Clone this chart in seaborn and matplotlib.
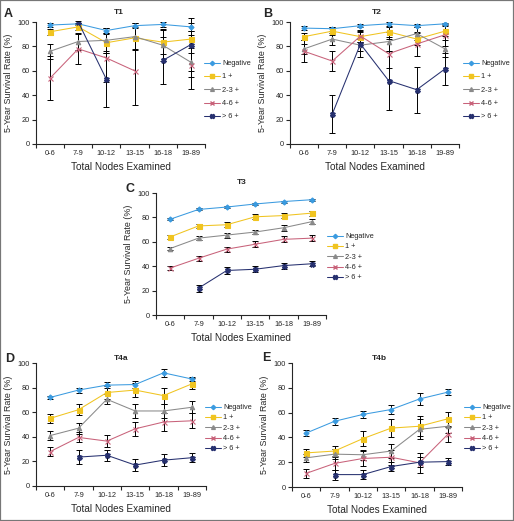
import numpy as np
import pandas as pd
import matplotlib
matplotlib.use("Agg")
import matplotlib.pyplot as plt
import seaborn as sns
from matplotlib.lines import Line2D
from matplotlib.patches import Rectangle

nan = np.nan
categories = ['0-6', '7-9', '10-12', '13-15', '16-18', '19-89']
groups = ['Negative', '1 +', '2-3 +', '4-6 +', '> 6 +']

# ---- T1 ----
t1_neg = [97.5, 98.5, 93, 97, 98, 96]
t1_1 = [92, 96, 83, 87, 83.5, 86]
t1_23 = [76, 84, 85, 88, 81, 67]
t1_46 = [54, 78, 70.5, 60, nan, 65]
t1_6 = [nan, 100, 53, nan, 68.5, 81.5]
t1_neg_e = [1.5, 1, 2.3, 2, 2, 3]
t1_1_e = [2.5, 2.5, 8, 9, 10, 7]
t1_23_e = [6, 7, 10, 11, 13, 22]
t1_46_e = [18, 12.5, 20, 28, 0, 10]
t1_6_e = [0, 1, 23, 0, 19, 22]

# ---- T2 ----
t2_neg = [95, 94.5, 97, 98.5, 97, 98.5]
t2_1 = [88, 92.5, 88, 92, 86, 92.5]
t2_23 = [78, 86, 81, 84, 90.5, 78]
t2_46 = [76, 68, 88.5, 74, 82, 89.5]
t2_6 = [nan, 24.5, 82, 52, 44.5, 61.5]
t2_neg_e = [1.5, 1.5, 1.5, 1.5, 1.5, 1]
t2_1_e = [3, 3, 4, 4, 5, 4]
t2_23_e = [4, 5, 5, 8, 5, 7]
t2_46_e = [9, 8.5, 5, 12, 10, 9]
t2_6_e = [0, 15.5, 11, 24.5, 19, 13]

# ---- T3 ----
t3_neg = [78.5, 86.5, 88.5, 91, 93, 94.5]
t3_1 = [64, 73, 74, 80.5, 81.5, 83.5]
t3_23 = [54.5, 63, 65.5, 68, 71.5, 76.5]
t3_46 = [38.5, 46.5, 54, 58, 62, 63]
t3_6 = [nan, 22, 36.5, 37.5, 40.5, 42]
t3_neg_e = [0.8, 0.8, 0.8, 0.8, 0.8, 0.8]
t3_1_e = [1.5, 1.8, 2, 2, 2, 2]
t3_23_e = [1.5, 1.8, 2, 2, 2.5, 2]
t3_46_e = [2, 2, 2, 2.5, 2.5, 2.5]
t3_6_e = [0, 3, 2.5, 2.5, 2.5, 2]

# ---- T4a ----
t4a_neg = [72, 78, 82, 82.5, 92, 87]
t4a_1 = [55, 62, 76, 78, 73.5, 83]
t4a_23 = [41, 47, 70.5, 61, 61, 64]
t4a_46 = [28, 39.5, 36.5, 46.5, 52, 53]
t4a_6 = [nan, 23.5, 25, 17, 21, 23]
t4a_neg_e = [1.5, 2, 2.5, 3, 3, 2]
t4a_1_e = [3.5, 4.5, 5, 5.5, 6.5, 4.5]
t4a_23_e = [3.5, 4.5, 4, 6, 6, 5]
t4a_46_e = [4, 4, 5, 5.5, 7, 6]
t4a_6_e = [0, 6, 4.5, 5, 5, 3.5]

# ---- T4b ----
t4b_neg = [43.5, 53, 58.5, 62.5, 71, 76.5]
t4b_1 = [27.5, 29, 39, 47.5, 49, 55]
t4b_23 = [23.5, 26.5, 26, 29, 46.5, 49]
t4b_46 = [11, 19, 23, 24, 19.5, 42.5]
t4b_6 = [nan, 10, 10, 16.5, 20, 20.5]
t4b_neg_e = [2.5, 3, 3, 3.5, 4.5, 2.5]
t4b_1_e = [3.5, 4, 6, 7, 8, 5.5]
t4b_23_e = [3.5, 4, 4, 6, 8, 5.5]
t4b_46_e = [3.5, 5, 6, 6, 8, 6]
t4b_6_e = [0, 4, 3.5, 3.5, 4, 3]

colors = ['#3b9be0', '#f0c420', '#8a8a8a', '#c8627a', '#26306f']
markers = ['D', 's', '^', 'x', 'X']
msizes = [2.6, 3.6, 3.2, 3.6, 3.6]

W, H = 514, 521
sns.set_style('ticks')
plt.rcParams['font.family'] = ['Liberation Sans', 'DejaVu Sans']
plt.rcParams['axes.linewidth'] = 0.8

fig = plt.figure(figsize=(W / 100, H / 100), dpi=100)


def rect(l, t, r, b):
    return [l / W, 1 - b / H, (r - l) / W, (b - t) / H]


panels = [
    dict(letter='A', title='T1', box=(36, 22, 205, 144), leg=(204, 60), sp=0.84,
         letpos=(4, 17), titpos=(119, 12),
         vals=[t1_neg, t1_1, t1_23, t1_46, t1_6], errs=[t1_neg_e, t1_1_e, t1_23_e, t1_46_e, t1_6_e]),
    dict(letter='B', title='T2', box=(290, 22, 459, 144), leg=(463, 60), sp=0.84,
         letpos=(263, 17), titpos=(377, 12),
         vals=[t2_neg, t2_1, t2_23, t2_46, t2_6], errs=[t2_neg_e, t2_1_e, t2_23_e, t2_46_e, t2_6_e]),
    dict(letter='C', title='T3', box=(156, 193, 326, 315), leg=(327, 233), sp=0.43,
         letpos=(126, 192), titpos=(242, 183),
         vals=[t3_neg, t3_1, t3_23, t3_46, t3_6], errs=[t3_neg_e, t3_1_e, t3_23_e, t3_46_e, t3_6_e]),
    dict(letter='D', title='T4a', box=(36, 363, 206, 486), leg=(205, 404), sp=0.43,
         letpos=(5, 362), titpos=(121, 358),
         vals=[t4a_neg, t4a_1, t4a_23, t4a_46, t4a_6], errs=[t4a_neg_e, t4a_1_e, t4a_23_e, t4a_46_e, t4a_6_e]),
    dict(letter='E', title='T4b', box=(292, 363, 462, 487), leg=(464, 404), sp=0.43,
         letpos=(262, 361), titpos=(379, 358),
         vals=[t4b_neg, t4b_1, t4b_23, t4b_46, t4b_6], errs=[t4b_neg_e, t4b_1_e, t4b_23_e, t4b_46_e, t4b_6_e]),
]

for p in panels:
    ax = fig.add_axes(rect(*p['box']))
    xs = np.arange(len(categories))
    for gi, g in enumerate(groups):
        v = np.array(p['vals'][gi], dtype=float)
        e = np.array(p['errs'][gi], dtype=float)
        seg = np.cumsum(np.isnan(v))
        ok = ~np.isnan(v)
        df = pd.DataFrame({'x': xs[ok], 'v': v[ok], 'seg': seg[ok]})
        ax.errorbar(xs[ok], v[ok], yerr=e[ok], fmt='none', ecolor='black',
                    elinewidth=0.7, capsize=2.2, capthick=0.7, zorder=2, clip_on=False)
        sns.lineplot(data=df, x='x', y='v', units='seg', estimator=None, ax=ax,
                     color=colors[gi], marker=markers[gi], markersize=msizes[gi],
                     markeredgecolor=colors[gi], markeredgewidth=0.8, linewidth=0.75,
                     legend=False, zorder=3)
    ax.set_xlim(-0.5, len(categories) - 0.5)
    ax.set_ylim(0, 100)
    ax.set_xticks(xs)
    ax.set_xticklabels(categories)
    ax.set_xticks(np.arange(-0.5, len(categories), 1.0), minor=True)
    ax.tick_params(axis='x', which='major', length=0, labelsize=5.3, pad=4)
    ax.tick_params(axis='x', which='minor', length=3, width=0.8)
    ax.set_yticks([0, 20, 40, 60, 80, 100])
    ax.tick_params(axis='y', length=3, width=0.8, labelsize=5.3, pad=1.5)
    sns.despine(ax=ax)
    ax.set_xlabel('Total Nodes Examined', fontsize=7.2, labelpad=4)
    ax.set_ylabel('5-Year Survival Rate (%)', fontsize=6.4, labelpad=3)

    handles = [Line2D([], [], color=colors[i], marker=markers[i], markersize=msizes[i] * 0.85,
                      markeredgecolor=colors[i], lw=0.75) for i in range(len(groups))]
    lx, ly = p['leg']
    ax.legend(handles, groups, loc='upper left', bbox_to_anchor=(lx / W, 1 - ly / H),
              bbox_transform=fig.transFigure, frameon=False, fontsize=5.3,
              borderpad=0, borderaxespad=0, handlelength=2.2, handletextpad=0.3,
              labelspacing=p['sp'])

    fig.text(p['letpos'][0] / W, 1 - p['letpos'][1] / H, p['letter'], fontsize=9,
             fontweight='bold', ha='left', va='baseline')
    fig.text(p['titpos'][0] / W, 1 - p['titpos'][1] / H, p['title'], fontsize=6,
             fontweight='bold', ha='center', va='center')

fig.patches.append(Rectangle((0, 0), 1, 1, transform=fig.transFigure, fill=False,
                             edgecolor='#777777', linewidth=1.6))

fig.savefig('out.png', dpi=100)
